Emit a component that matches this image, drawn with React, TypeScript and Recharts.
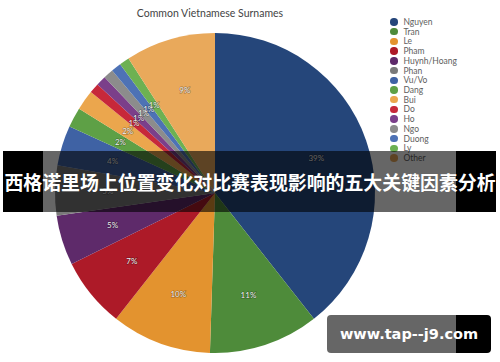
import { PieChart, Pie, Cell, Legend } from "recharts";

const surnames = [
  "Nguyen", "Tran", "Le", "Pham", "Huynh/Hoang", "Phan", "Vu/Vo", "Dang",
  "Bui", "Do", "Ho", "Ngo", "Duong", "Ly", "Other",
];
const shares = [39, 11, 10, 7, 5, 5, 4, 2, 2, 1, 1, 1, 1, 1, 9];
const colors = [
  "#25467a", "#4e8b3a", "#e3932f", "#ad1a28", "#5e2a6a", "#7a7a7a",
  "#3f62a4", "#5ea046", "#eba64d", "#c7283a", "#7b3f8a", "#8c8c8c",
  "#4e72b5", "#6db152", "#e9a95b",
];

const chartTitle = "Common Vietnamese Surnames";
const bannerText = "西格诺里场上位置变化对比赛表现影响的五大关键因素分析";
const siteText = "www.tap--j9.com";

const data = surnames.map((name, i) => ({ name, value: shares[i] }));

const RAD = Math.PI / 180;

function renderLabel(props: any) {
  const { cx, cy, midAngle, outerRadius, value } = props;
  const r = outerRadius * 0.67;
  const x = cx + r * Math.cos(-midAngle * RAD);
  const y = cy + r * Math.sin(-midAngle * RAD);
  return (
    <text
      x={x}
      y={y}
      fill="#f2f2f2"
      stroke="rgba(0,0,0,0.35)"
      strokeWidth={1.2}
      paintOrder="stroke"
      fontSize={8}
      fontFamily="Lato, sans-serif"
      textAnchor="middle"
      dominantBaseline="central"
    >
      {value}%
    </text>
  );
}

function LegendList() {
  return (
    <div style={{ fontFamily: "Lato, sans-serif", fontSize: 8.5, color: "#606060" }}>
      {surnames.map((name, i) => (
        <div key={name} style={{ display: "flex", alignItems: "center", height: 9.74 }}>
          <span
            style={{
              width: 7.5,
              height: 7.5,
              borderRadius: "50%",
              background: colors[i],
              marginRight: 6,
              display: "inline-block",
            }}
          />
          <span>{name}</span>
        </div>
      ))}
    </div>
  );
}

export default function App() {
  return (
    <div style={{ position: "absolute", left: 0, top: 0, width: 500, height: 362, background: "#fff", overflow: "hidden" }}>
      <div
        style={{
          position: "absolute",
          top: 7,
          left: 0,
          width: 420,
          textAlign: "center",
          fontFamily: "Lato, sans-serif",
          fontSize: 10.5,
          color: "#444",
        }}
      >
        {chartTitle}
      </div>
      <PieChart width={500} height={362}>
        <Pie
          data={data}
          dataKey="value"
          nameKey="name"
          cx={210}
          cy={188}
          outerRadius={160}
          startAngle={90}
          endAngle={-270}
          stroke="none"
          labelLine={false}
          label={renderLabel}
          isAnimationActive={false}
        >
          {data.map((d, i) => (
            <Cell key={d.name} fill={colors[i]} />
          ))}
        </Pie>
        <Legend
          content={() => <LegendList />}
          wrapperStyle={{ position: "absolute", left: 390, top: 17, width: 100 }}
        />
      </PieChart>

      {/* headline banner */}
      <div style={{ position: "absolute", left: 3, top: 151, width: 40, height: 61, background: "#000" }} />
      <div style={{ position: "absolute", left: 43, top: 151, width: 413, height: 61, background: "rgba(0,0,0,0.6)" }} />
      <div style={{ position: "absolute", left: 456, top: 151, width: 40, height: 61, background: "#000" }} />
      <div
        style={{
          position: "absolute",
          left: 0,
          top: 151,
          width: 500,
          height: 61,
          display: "flex",
          alignItems: "center",
          justifyContent: "center",
          color: "#fff",
          fontFamily: '"Noto Sans CJK SC", sans-serif',
          fontWeight: 700,
          fontSize: 18.9,
          whiteSpace: "nowrap",
        }}
      >
        {bannerText}
      </div>

      {/* site badge */}
      <div style={{ position: "absolute", left: 327, top: 315, width: 129, height: 38, background: "rgba(0,0,0,0.6)", borderRadius: "4px 0 0 4px" }} />
      <div style={{ position: "absolute", left: 456, top: 315, width: 35, height: 38, background: "#000", borderRadius: "0 4px 4px 0" }} />
      <div
        style={{
          position: "absolute",
          left: 327,
          top: 315,
          width: 164,
          height: 38,
          display: "flex",
          alignItems: "center",
          justifyContent: "center",
          color: "#fff",
          fontFamily: '"DejaVu Sans", sans-serif',
          fontWeight: 700,
          fontSize: 14.5,
          whiteSpace: "nowrap",
        }}
      >
        {siteText}
      </div>
    </div>
  );
}
